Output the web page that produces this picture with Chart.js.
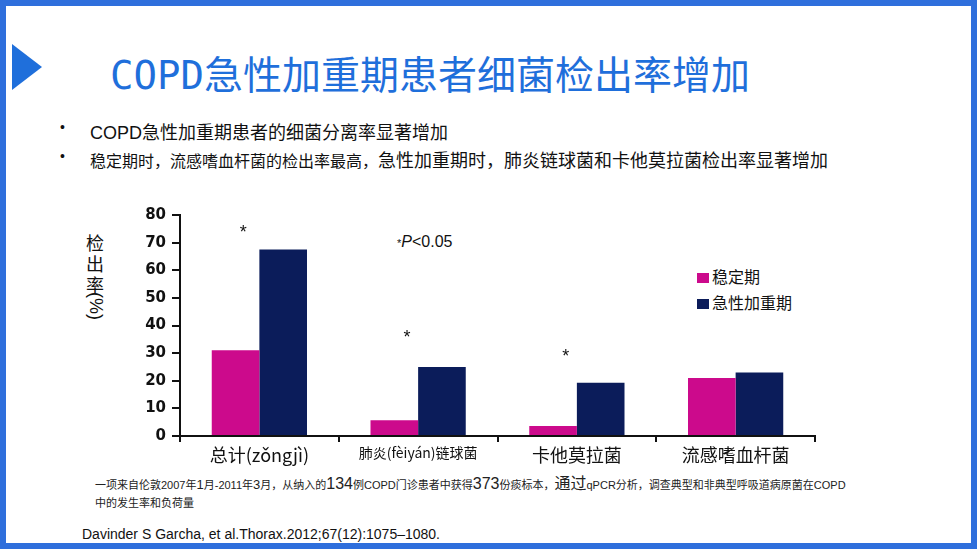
<!DOCTYPE html>
<html>
<head>
<meta charset="utf-8">
<script src="https://cdn.jsdelivr.net/npm/chart.js@4"></script>
<style>
  body { margin:0; width:977px; height:549px; overflow:hidden; background:#fff; font-family:"Liberation Sans","Noto Sans CJK SC",sans-serif; }
  #frame { position:absolute; left:0; top:0; width:965px; height:537px; border:6px solid #2f6fdc; }
  .abs { position:absolute; white-space:nowrap; }
  #tri { position:absolute; left:12px; top:44px; width:0; height:0; border-top:23px solid transparent; border-bottom:23px solid transparent; border-left:30px solid #1f6fdb; }
  #title { left:110px; top:44px; font-size:39px; color:#1f6fdb; font-family:"DejaVu Sans Mono","Noto Sans CJK SC",monospace; }
  #title span { font-family:"Noto Sans CJK SC",sans-serif; }
  .bul { font-size:17px; color:#111; }
  .leg { font-size:16px; color:#111; font-family:"Noto Sans CJK SC",sans-serif; }
  .sw { display:inline-block; width:12px; height:10px; margin-right:3px; }
</style>
</head>
<body>
<div id="frame"></div>
<div id="tri"></div>
<div class="abs" id="title">COPD<span>急性加重期患者细菌检出率增加</span></div>
<div class="abs bul" style="left:60px;top:119px;font-size:14px;">•</div>
<div class="abs bul" style="left:90px;top:118px;font-size:18px;">COPD急性加重期患者的细菌分离率显著增加</div>
<div class="abs bul" style="left:60px;top:148px;font-size:14px;">•</div>
<div class="abs bul" style="left:90px;top:146px;"><span style="font-size:16px">稳定期时，流感嗜血杆菌的检出率最高，</span><span style="font-size:18px">急性加重期时，肺炎链球菌和卡他莫拉菌检出率显著增加</span></div>

<div class="abs" style="left:86px;top:232px;width:20px;font-size:18px;line-height:21px;color:#111;font-family:'Noto Sans CJK SC';">检<br>出<br>率</div>
<div class="abs" style="top:292px;left:106px;font-size:18px;transform:rotate(90deg);transform-origin:left top;color:#111;">(%)</div>
<div class="abs" style="left:397px;top:233px;font-size:16px;color:#111;"><span style="font-size:11px">*</span><i>P</i>&lt;0.05</div>
<div class="abs leg" style="left:697px;top:264px;"><span class="sw" style="background:#cc0a8c"></span>稳定期</div>
<div class="abs leg" style="left:697px;top:290px;"><span class="sw" style="background:#0b1c5a"></span>急性加重期</div>

<canvas id="c" width="700" height="270" style="position:absolute;left:130px;top:200px;width:700px;height:270px;"></canvas>

<div class="abs" style="left:95px;top:475px;font-size:11px;color:#222;line-height:18px;font-family:'Liberation Sans','Noto Sans CJK SC';">一项来自伦敦2007年<span style="font-size:13px">1</span>月-2011年<span style="font-size:13px">3</span>月，从纳入的<span style="font-size:16px">134</span>例COPD门诊患者中获得<span style="font-size:16px">373</span>份痰标本，<span style="font-size:16px">通过</span>qPCR分析，调查典型和非典型呼吸道病原菌在COPD<br>中的发生率和负荷量</div>
<div class="abs" style="left:82px;top:526px;font-size:14px;color:#111;">Davinder S Garcha, et al.Thorax.2012;67(12):1075–1080.</div>

<script>
const categories = ["总计(zǒngjì)", "肺炎(fèiyán)链球菌", "卡他莫拉菌", "流感嗜血杆菌"];
const stableValues = [31, 5.7, 3.6, 21];
const exacerbValues = [67.5, 25, 19.3, 23];
const starValues = [75, 37, 30, null];
const yTicks = [0, 10, 20, 30, 40, 50, 60, 70, 80];

const starPlugin = {
  id: 'stars',
  afterDatasetsDraw(chart) {
    const ctx = chart.ctx, x = chart.scales.x, y = chart.scales.y;
    ctx.save();
    ctx.font = '18px "Liberation Sans"';
    ctx.fillStyle = '#111';
    ctx.textAlign = 'center';
    ctx.textBaseline = 'middle';
    starValues.forEach((v, i) => {
      if (v == null) return;
      ctx.fillText('*', x.getPixelForValue(i) - (i === 0 ? 16 : 11), y.getPixelForValue(v) + 4);
    });
    ctx.restore();
  }
};

new Chart(document.getElementById('c'), {
  type: 'bar',
  plugins: [starPlugin],
  data: {
    labels: categories,
    datasets: [
      { label: '稳定期', data: stableValues, backgroundColor: '#cc0a8c' },
      { label: '急性加重期', data: exacerbValues, backgroundColor: '#0b1c5a' }
    ]
  },
  options: {
    responsive: false,
    animation: false,
    devicePixelRatio: 1,
    layout: { padding: { top: 12, right: 15, left: 0, bottom: 0 } },
    plugins: { legend: { display: false }, tooltip: { enabled: false } },
    datasets: { bar: { categoryPercentage: 0.6, barPercentage: 1 } },
    scales: {
      x: {
        afterFit: s => { s.height = 34; },
        border: { color: '#111', width: 2 },
        grid: { offset: true, drawOnChartArea: false, tickLength: 6, color: '#111', lineWidth: 2 },
        ticks: {
          color: '#111', padding: 2, autoSkip: false, maxRotation: 0, minRotation: 0,
          font: ctx => ({ family: '"Noto Sans CJK SC","Liberation Sans"', size: ctx.index === 1 ? 14 : 18 })
        }
      },
      y: {
        min: 0, max: 80,
        afterFit: s => { s.width = 50; },
        afterBuildTicks: s => { s.ticks = yTicks.map(v => ({ value: v })); },
        border: { color: '#111', width: 2 },
        grid: { drawOnChartArea: false, tickLength: 8, color: '#111', lineWidth: 2 },
        ticks: { color: '#111', padding: 6, autoSkip: false, font: { family: '"DejaVu Sans"', size: 15, weight: 'bold' } }
      }
    }
  }
});
</script>
</body>
</html>
